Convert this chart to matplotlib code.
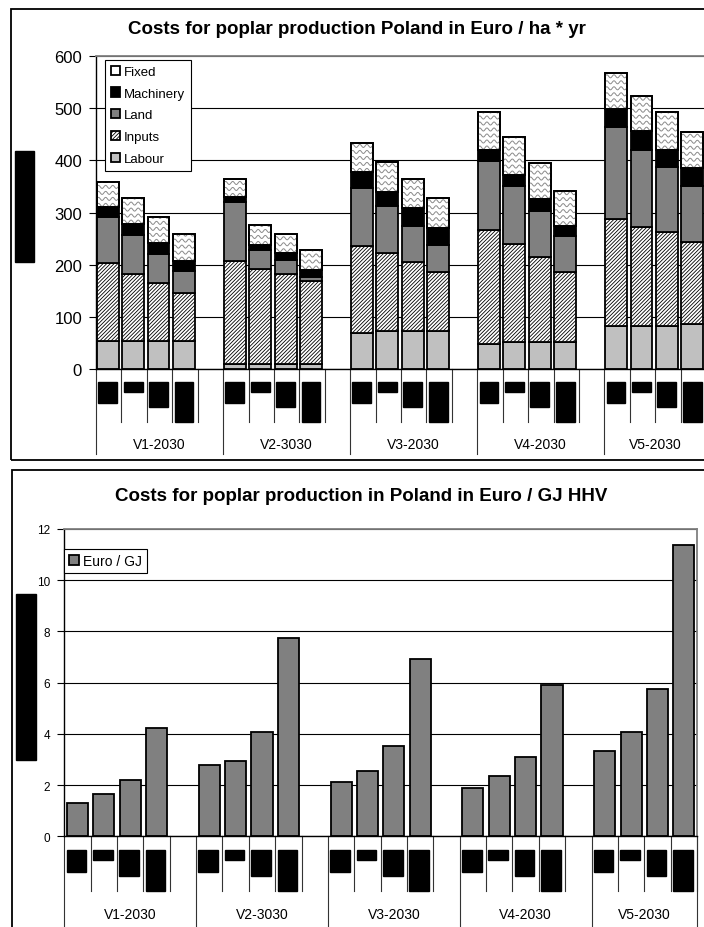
import numpy as np
import matplotlib.pyplot as plt
from matplotlib.patches import Rectangle
from matplotlib.transforms import blended_transform_factory

plt.rcParams['font.family'] = ['Liberation Sans', 'DejaVu Sans']
plt.rcParams['hatch.linewidth'] = 0.6

# Data
groups = ['V1-2030', 'V2-3030', 'V3-2030', 'V4-2030', 'V5-2030']
labour = [54, 54, 54, 54, 10, 10, 10, 10, 69, 73, 73, 73,
          48, 51, 51, 51, 83, 83, 83, 86]
inputs = [150, 128, 110, 92, 197, 182, 172, 159, 166, 149, 133, 112,
          219, 188, 163, 134, 204, 190, 179, 158]
land = [87, 75, 56, 42, 113, 36, 27, 7, 112, 90, 69, 53,
        131, 112, 89, 69, 177, 147, 126, 107]
machinery = [19, 21, 21, 19, 9, 9, 14, 14, 30, 28, 33, 33,
             22, 21, 23, 21, 35, 36, 32, 34]
fixed = [48, 50, 51, 52, 35, 39, 36, 39, 56, 57, 56, 56,
         72, 73, 68, 67, 69, 68, 72, 70]
euro_per_gj = [1.3, 1.65, 2.2, 4.22, 2.78, 2.95, 4.09, 7.73,
               2.11, 2.56, 3.54, 6.93, 1.89, 2.34, 3.09, 5.91,
               3.32, 4.09, 5.75, 11.38]

n_per_group = 4
slots = 5  # 4 bars + one empty slot per group
x = np.array([g * slots + s for g in range(len(groups)) for s in range(n_per_group)])

W, H = 704, 928


def fx(px):
    return px / W


def fy(py):
    return 1 - py / H


fig = plt.figure(figsize=(W / 100, H / 100), dpi=100)


def style_axes(ax, labelsize, right_gray):
    ax.set_xlim(-0.5, 23.5)
    ax.yaxis.grid(True, color='black', lw=0.8)
    ax.set_axisbelow(True)
    ax.tick_params(axis='y', direction='out', length=5, width=0.8,
                   labelsize=labelsize, pad=5)
    ax.tick_params(axis='x', length=0, labelbottom=False)
    for side in ['left', 'bottom']:
        ax.spines[side].set_color('black')
        ax.spines[side].set_linewidth(1.0)
    ax.spines['top'].set_color('#808080')
    ax.spines['top'].set_linewidth(1.3)
    ax.spines['right'].set_visible(right_gray)
    ax.spines['right'].set_color('#808080')
    ax.spines['right'].set_linewidth(1.3)


def category_table(ax, y0, sub_bottom, grp_bottom, box_top, box_heights, label_y):
    tr = blended_transform_factory(ax.transData, fig.transFigure)
    for g in range(len(groups)):
        for k in range(slots):
            xb = g * slots + k - 0.5
            bottom = grp_bottom if k == 0 else sub_bottom
            ax.plot([xb, xb], [fy(y0), fy(bottom)], transform=tr, color='#333333',
                    lw=0.8, clip_on=False)
        for s in range(n_per_group):
            xc = g * slots + s - 0.04
            ax.add_artist(Rectangle((xc - 0.37, fy(box_top + box_heights[s])), 0.74,
                                    box_heights[s] / H, transform=tr, color='black',
                                    clip_on=False))
    last = len(groups) * slots - 1 - 0.5
    ax.plot([last, last], [fy(y0), fy(grp_bottom)], transform=tr, color='#333333',
            lw=0.8, clip_on=False)
    for g, name in enumerate(groups):
        n = slots if g < len(groups) - 1 else n_per_group
        xc = g * slots - 0.5 + n / 2
        ax.text(xc, fy(label_y), name, transform=tr, ha='center', va='center',
                fontsize=10)


# ---------- Top chart: costs per ha ----------
ax1 = fig.add_axes([fx(96), fy(370), (706 - 96) / W, (370 - 57) / H])
style_axes(ax1, 12, False)
ax1.set_ylim(0, 600)
ax1.set_yticks(range(0, 601, 100))

bw = 0.86
kw = dict(width=bw, edgecolor='black', linewidth=1.3)
b_lab = ax1.bar(x - 0.04, labour, color='#c0c0c0', label='Labour', **kw)
b1 = np.array(labour)
b_inp = ax1.bar(x - 0.04, inputs, bottom=b1, color='white', hatch='/////////',
                label='Inputs', **kw)
b2 = b1 + np.array(inputs)
b_land = ax1.bar(x - 0.04, land, bottom=b2, color='#808080', label='Land', **kw)
b3 = b2 + np.array(land)
b_mach = ax1.bar(x - 0.04, machinery, bottom=b3, color='black', label='Machinery', **kw)
b4 = b3 + np.array(machinery)
b_fix = ax1.bar(x - 0.04, fixed, bottom=b4, color='white', label='Fixed', **kw)

# wavy fill pattern for the "Fixed" segments
period, amp, gap = 0.28, 2.9, 11.5
for p in b_fix.patches:
    x0, y0 = p.get_x(), p.get_y()
    w, h = p.get_width(), p.get_height()
    xs = np.linspace(x0, x0 + w, 80)
    lev = y0 + gap * 0.4
    while lev < y0 + h + amp:
        ys = lev + amp * np.sin(2 * np.pi * (xs - x0) / period)
        ln, = ax1.plot(xs, ys, color='#8a8a8a', lw=0.7, zorder=p.get_zorder() + 0.1)
        ln.set_clip_path(p)
        lev += gap
    # redraw outline on top
    ax1.add_patch(Rectangle((x0, y0), w, h, fill=False, edgecolor='black',
                            lw=1.3, zorder=p.get_zorder() + 0.2))

leg = ax1.legend([b_fix, b_mach, b_land, b_inp, b_lab],
                 ['Fixed', 'Machinery', 'Land', 'Inputs', 'Labour'],
                 loc='upper left', bbox_to_anchor=(fx(105), fy(60.7)),
                 bbox_transform=fig.transFigure, borderaxespad=0, fancybox=False,
                 edgecolor='black', fontsize=9.5, handlelength=0.7, handleheight=0.7,
                 handletextpad=0.25, labelspacing=0.72, borderpad=0.45, framealpha=1)
leg.get_frame().set_linewidth(0.8)

category_table(ax1, 370, 423, 455, 383, [21, 10, 25, 40], 445)

fig.text(fx(357), fy(30), 'Costs for poplar production Poland in Euro / ha * yr',
         ha='center', va='center', fontsize=13.5, fontweight='bold')

# ---------- Bottom chart: costs per GJ ----------
ax2 = fig.add_axes([fx(64.3), fy(837.3), (697 - 64.3) / W, (837.3 - 530) / H])
style_axes(ax2, 8.5, True)
ax2.set_ylim(0, 12)
ax2.set_yticks(range(0, 13, 2))
b_gj = ax2.bar(x, euro_per_gj, width=0.8, color='#808080', edgecolor='black',
               linewidth=1.3, label='Euro / GJ')
leg2 = ax2.legend(loc='upper left', bbox_to_anchor=(fx(64.3), fy(550)),
                  bbox_transform=fig.transFigure, borderaxespad=0, fancybox=False,
                  edgecolor='black', fontsize=10, handlelength=0.7, handleheight=0.7,
                  handletextpad=0.3, borderpad=0.35, framealpha=1)
leg2.get_frame().set_linewidth(0.8)

category_table(ax2, 837.3, 892, 940, 851, [22, 10, 26, 41], 915)

fig.text(fx(361), fy(497), 'Costs for poplar production in Poland in Euro / GJ HHV',
         ha='center', va='center', fontsize=13.5, fontweight='bold')

# outer chart frames and redacted axis titles
fig.add_artist(Rectangle((fx(11), fy(460.7)), fx(720) - fx(11), (460.7 - 10) / H,
                         transform=fig.transFigure, fill=False, edgecolor='black', lw=1.3))
fig.add_artist(Rectangle((fx(12), fy(940)), fx(720) - fx(12), (940 - 470.7) / H,
                         transform=fig.transFigure, fill=False, edgecolor='black', lw=1.3))
fig.add_artist(Rectangle((fx(15), fy(263.3)), 19 / W, (263.3 - 151.7) / H,
                         transform=fig.transFigure, color='black'))
fig.add_artist(Rectangle((fx(16), fy(760.7)), 20 / W, (760.7 - 595) / H,
                         transform=fig.transFigure, color='black'))

fig.savefig('out.png', dpi=100)
